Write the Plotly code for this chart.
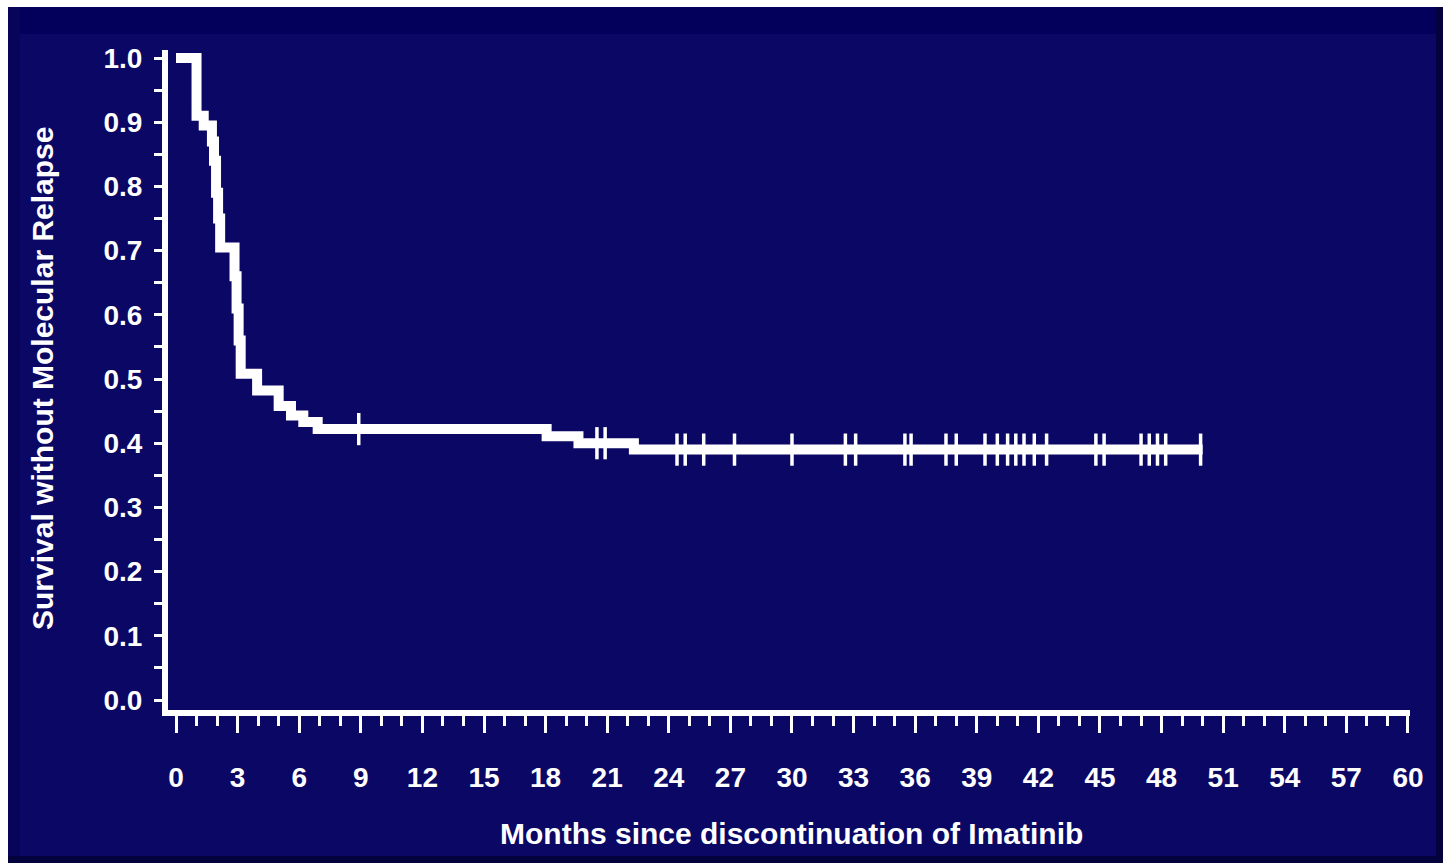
import numpy as np
import plotly.graph_objects as go

# ---- data ----
event_months = [0, 1.0, 1.35, 1.75, 1.85, 1.95, 2.05, 2.15, 2.85, 2.95, 3.05, 3.15,
                3.95, 5.0, 5.6, 6.2, 6.9, 18.05, 19.6, 22.3]
survival = [1.0, 0.91, 0.895, 0.87, 0.84, 0.79, 0.75, 0.705, 0.66, 0.61, 0.56, 0.508,
            0.482, 0.458, 0.443, 0.433, 0.422, 0.411, 0.40, 0.39]
last_follow_up = 50.0
censored_months = [8.9, 20.5, 20.9, 24.4, 24.8, 25.7, 27.2, 30.0, 32.6, 33.1, 35.5, 35.8,
                   37.5, 38.0, 39.4, 40.0, 40.5, 40.9, 41.3, 41.8, 42.4, 44.8, 45.2,
                   47.0, 47.4, 47.8, 48.2, 49.9]
x_ticks = list(range(0, 61, 3))
y_ticks = [round(v * 0.1, 1) for v in range(0, 11)]
x_title = "Months since discontinuation of Imatinib"
y_title = "Survival without Molecular Relapse"

# ---- layout geometry ----
W, H = 1443, 863
L, R, T, B = 168, 1410, 50, 710
pw, ph = R - L, B - T
NAVY = "#0b0764"
FONT = "Liberation Sans, Arial, sans-serif"


def px_x(px):
    return (px - L) / pw


def px_y(py):
    return (B - py) / ph


line_x = event_months + [last_follow_up]
line_y = survival + [survival[-1]]

ev = np.array(event_months)
sv = np.array(survival)
cens_y = [float(sv[np.searchsorted(ev, t, side="right") - 1]) for t in censored_months]

fig = go.Figure()
fig.add_trace(go.Scatter(
    x=line_x, y=line_y, mode="lines", line=dict(color="white", width=10, shape="hv"),
    cliponaxis=False, hoverinfo="skip", showlegend=False))
fig.add_trace(go.Scatter(
    x=censored_months, y=cens_y, mode="markers",
    marker=dict(symbol="line-ns", size=23, color="white", line=dict(color="white", width=3.5)),
    cliponaxis=False, hoverinfo="skip", showlegend=False))

fig.update_xaxes(
    range=[(L - 176) / 20.533, (R - 176) / 20.533],
    tickmode="array", tickvals=x_ticks, ticktext=[str(v) for v in x_ticks],
    showline=True, linecolor="white", linewidth=6,
    ticks="outside", ticklen=17, tickwidth=3, tickcolor="white",
    minor=dict(dtick=1, ticks="outside", ticklen=10, tickwidth=3, tickcolor="white", showgrid=False),
    showgrid=False, zeroline=False,
    tickfont=dict(family=FONT, size=28, color="white", weight="bold"),
    ticklabelstandoff=20,
)
fig.update_yaxes(
    range=[-10 / 642, 1 + 8 / 642],
    tickmode="array", tickvals=y_ticks, ticktext=[f"{v:.1f}" for v in y_ticks],
    showline=True, linecolor="white", linewidth=6,
    ticks="outside", ticklen=8, tickwidth=3, tickcolor="white",
    minor=dict(dtick=0.05, ticks="outside", ticklen=8, tickwidth=3, tickcolor="white", showgrid=False),
    showgrid=False, zeroline=False,
    tickfont=dict(family=FONT, size=28, color="white", weight="bold"),
    ticklabelstandoff=6,
)

shapes = [
    dict(type="rect", xref="paper", yref="paper", x0=px_x(8), x1=px_x(W), y0=px_y(34), y1=px_y(7),
         fillcolor="#03005c", line_width=0, layer="above"),
    dict(type="rect", xref="paper", yref="paper", x0=px_x(8), x1=px_x(20), y0=px_y(H), y1=px_y(7),
         fillcolor="#07045a", line_width=0, layer="above"),
    dict(type="rect", xref="paper", yref="paper", x0=px_x(1436), x1=px_x(W), y0=px_y(H), y1=px_y(7),
         fillcolor="#04023c", line_width=0, layer="above"),
    dict(type="rect", xref="paper", yref="paper", x0=px_x(8), x1=px_x(W), y0=px_y(H), y1=px_y(856),
         fillcolor="#04023c", line_width=0, layer="above"),
    dict(type="rect", xref="paper", yref="paper", x0=px_x(0), x1=px_x(W), y0=px_y(7), y1=px_y(0),
         fillcolor="white", line_width=0, layer="above"),
    dict(type="rect", xref="paper", yref="paper", x0=px_x(0), x1=px_x(8), y0=px_y(H), y1=px_y(0),
         fillcolor="white", line_width=0, layer="above"),
]

annotations = [
    dict(text=x_title, xref="paper", yref="paper", x=px_x(791), y=px_y(833),
         xanchor="center", yanchor="middle", showarrow=False,
         font=dict(family=FONT, size=30, color="white", weight="bold")),
    dict(text=y_title, xref="paper", yref="paper", x=px_x(42), y=px_y(379),
         xanchor="center", yanchor="middle", textangle=-90, showarrow=False,
         font=dict(family=FONT, size=30, color="white", weight="bold")),
]

fig.update_layout(
    width=W, height=H, autosize=False,
    margin=dict(l=L, r=W - R, t=T, b=H - B, pad=0),
    paper_bgcolor=NAVY, plot_bgcolor=NAVY,
    shapes=shapes, annotations=annotations,
    showlegend=False,
)

fig.write_html("out.html", config={"displayModeBar": False})
